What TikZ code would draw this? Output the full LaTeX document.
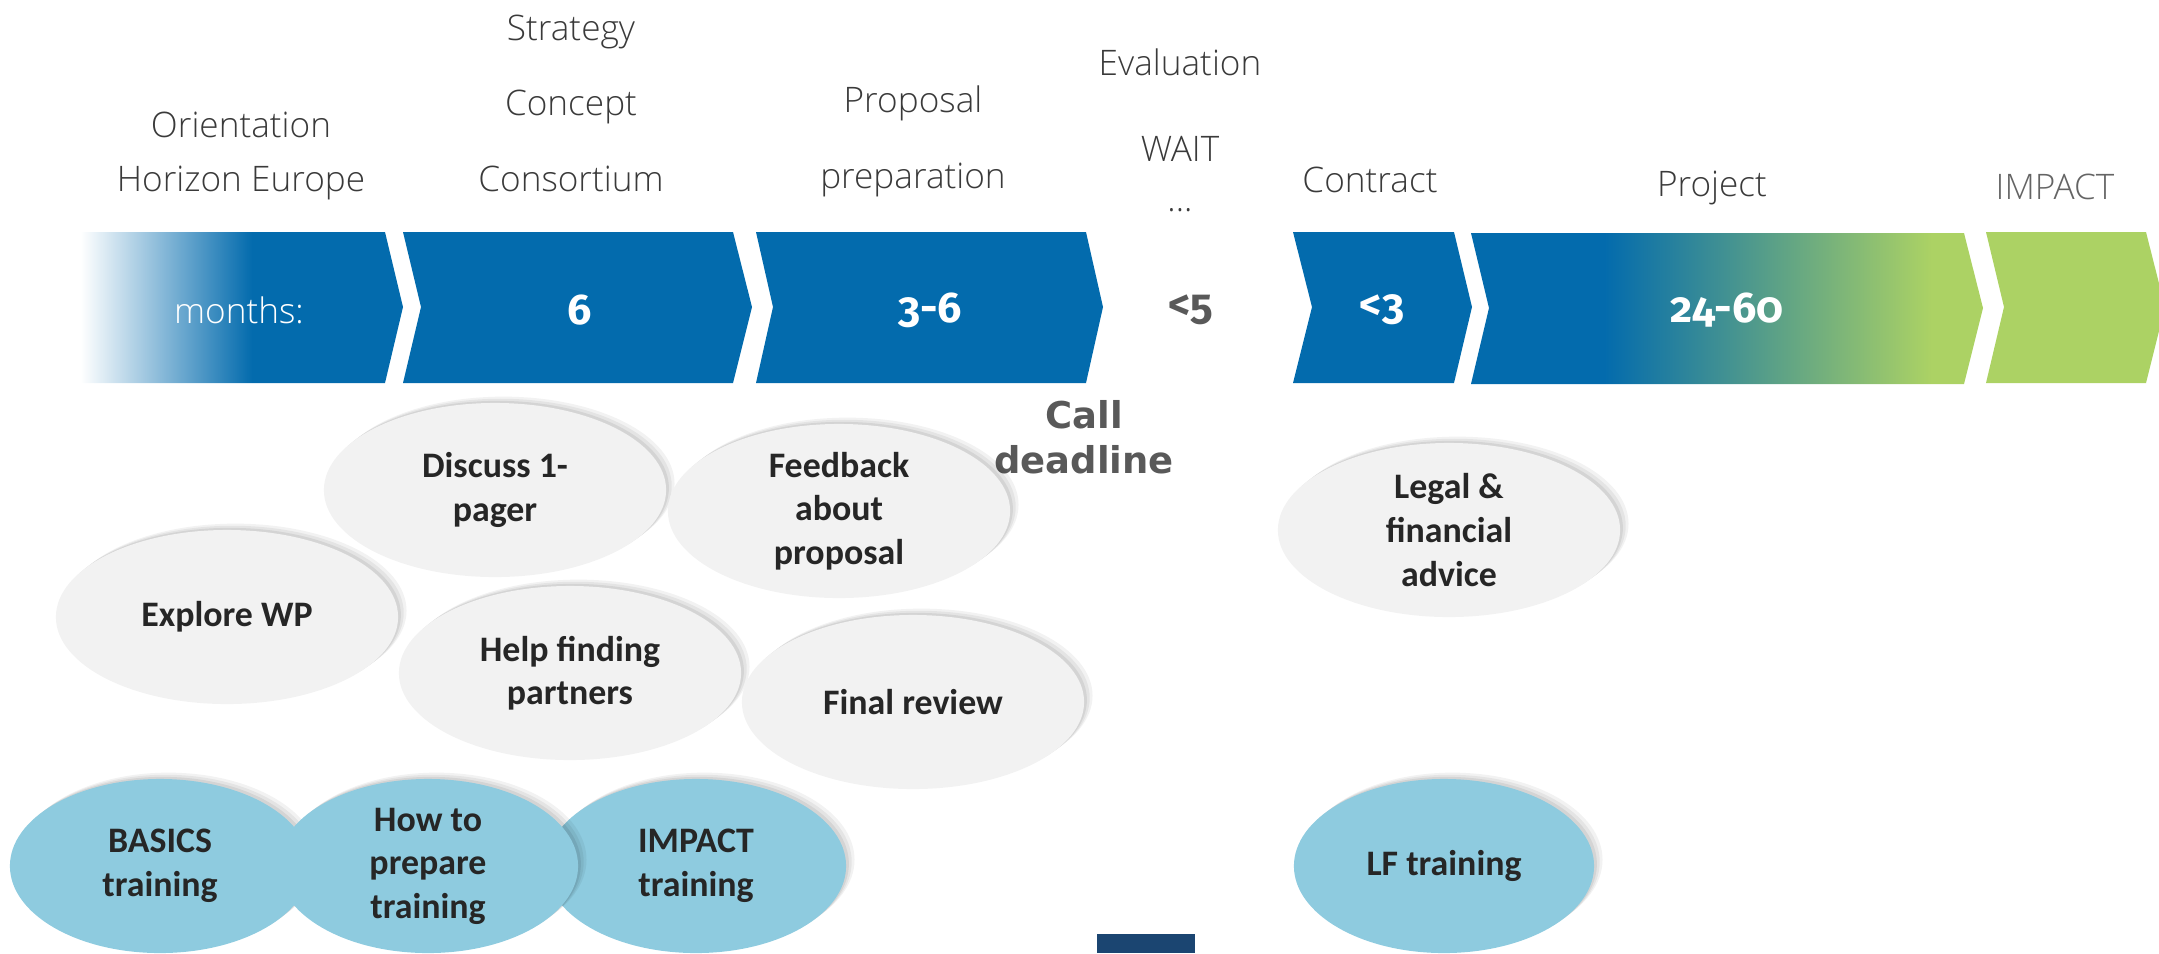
\documentclass[tikz,border=0pt]{standalone}
\usepackage{fontspec}
\setmainfont{Open Sans}
\IfFontExistsTF{Open Sans Light}{\newfontfamily\thinfont{Open Sans Light}}{\newfontfamily\thinfont{Open Sans}}
\newfontfamily\bubblefont{Carlito}
\newfontfamily\numfont{Fira Sans}[Numbers=OldStyle]
\newfontfamily\callfont{DejaVu Sans}
\usetikzlibrary{shapes.geometric,shadows}

\definecolor{hblue}{RGB}{3,107,173}
\definecolor{hgreen}{RGB}{172,210,100}
\definecolor{bubblegray}{RGB}{242,242,242}
\definecolor{bubbleblue}{RGB}{142,203,223}
\definecolor{inkgray}{RGB}{58,58,58}
\definecolor{inkdark}{RGB}{38,38,38}
\definecolor{softgray}{RGB}{89,89,89}
\definecolor{impactgray}{RGB}{100,100,100}
\definecolor{navy}{RGB}{27,69,113}

\pgfdeclarehorizontalshading{monthshade}{100bp}{color(0bp)=(white); color(28bp)=(white); color(53bp)=(hblue); color(100bp)=(hblue)}
\pgfdeclarehorizontalshading{projshade}{100bp}{color(0bp)=(hblue); color(38bp)=(hblue); color(70bp)=(hgreen); color(100bp)=(hgreen)}

\begin{document}
\begin{tikzpicture}[x=0.01cm,y=-0.01cm,
  phase/.style={anchor=base,font=\thinfont\fontsize{10}{12}\selectfont,text=inkgray},
  months/.style={font=\numfont\bfseries\fontsize{12.2}{14}\selectfont,text=white},
  bar/.style={fill=hblue},
  bubble/.style={ellipse,fill=bubblegray,minimum width=3.42cm,minimum height=1.74cm,
    inner sep=0pt,align=center,text=inkdark,
    font=\bubblefont\bfseries\fontsize{10.2}{12.4}\selectfont,
    drop shadow={shadow xshift=0.8pt,shadow yshift=0.6pt,opacity=0.07,fill=black},
    drop shadow={shadow xshift=1.6pt,shadow yshift=1.2pt,opacity=0.06,fill=black},
    drop shadow={shadow xshift=2.4pt,shadow yshift=1.8pt,opacity=0.05,fill=black}},
  training/.style={bubble,fill=bubbleblue,minimum width=3.0cm}]
\useasboundingbox (0,0) rectangle (2159,953);

% phase labels
\node[phase] (orient) at (241,137) {Orientation};
\node[phase] (horizon) at (241,191) {Horizon Europe};
\node[phase] (strategy) at (571,40) {Strategy};
\node[phase] (concept) at (571,115) {Concept};
\node[phase] (consortium) at (571,191) {Consortium};
\node[phase] (proposal) at (913,112) {Proposal};
\node[phase] (preparation) at (913,188) {preparation};
\node[phase] (evaluation) at (1180,75) {Evaluation};
\node[phase] (wait) at (1180,161) {WAIT};
\node[phase] (dots) at (1180,211) {...};
\node[phase] (contract) at (1370,192) {Contract};
\node[phase] (project) at (1712,196) {Project};
\node[phase,text=impactgray] (impact) at (2055,199) {IMPACT};

% chevrons
\shade[shading=monthshade] (60,232) -- (385,232) -- (403,307) -- (385,383) -- (60,383) -- cycle;
\fill[bar] (403,232) -- (733,232) -- (752,307) -- (733,383) -- (403,383) -- (421,307) -- cycle;
\fill[bar] (756,232) -- (1086,232) -- (1103,307) -- (1086,383) -- (756,383) -- (773,307) -- cycle;
\fill[bar] (1293,232) -- (1454,232) -- (1472,307) -- (1454,383) -- (1293,383) -- (1312,307) -- cycle;
\shade[shading=projshade] (1471,233) -- (1964,233) -- (1983,308) -- (1964,384) -- (1471,384) -- (1489,308) -- cycle;
\fill[hgreen] (1986,232) -- (2146,232) -- (2165,307) -- (2146,383) -- (1986,383) -- (2004,307) -- cycle;

\node[font=\thinfont\fontsize{10}{12}\selectfont,text=white] (monthlbl) at (239,310) {months:};
\node[months] (six) at (580,310) {6};
\node[months] (threesix) at (930,310) {3-6};
\node[months,text=softgray] (lessfive) at (1191,310) {<5};
\node[months] (lessthree) at (1382,310) {<3};
\node[months] (range) at (1727,310) {24-60};

\node[font=\callfont\bfseries\fontsize{10.5}{12.8}\selectfont,text=softgray,align=center] (deadline) at (1084,437) {Call\\deadline};

% support bubbles
\node[bubble] (explore) at (227,617) {Explore WP};
\node[bubble] (discuss) at (495,490) {Discuss 1-\\pager};
\node[bubble] (partners) at (570,673) {Help finding\\partners};
\node[bubble] (feedback) at (839,511) {Feedback\\about\\proposal};
\node[bubble] (review) at (913,702) {Final review};
\node[bubble] (legal) at (1449,530) {Legal \&\\financial\\advice};

% trainings
\node[training] (basics) at (160,866) {BASICS\\training};
\node[training] (impacttr) at (696,866) {IMPACT\\training};
\node[training] (howto) at (428,866) {How to\\prepare\\training};
\node[training] (lftr) at (1444,866) {LF training};

\fill[navy] (1097,934) rectangle (1195,953);
\end{tikzpicture}
\end{document}
